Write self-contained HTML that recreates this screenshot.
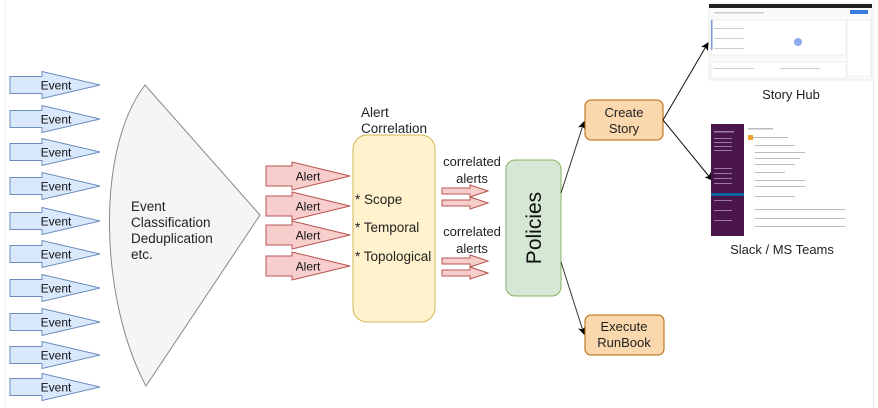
<!DOCTYPE html>
<html><head><meta charset="utf-8"><style>
html,body{margin:0;padding:0;background:#fff;}
svg{display:block;font-family:"Liberation Sans","DejaVu Sans",sans-serif;}
</style></head><body>
<svg width="878" height="408" viewBox="0 0 878 408" xmlns="http://www.w3.org/2000/svg">
<defs>
<marker id="ah" markerWidth="8" markerHeight="8" refX="7" refY="4" orient="auto" markerUnits="userSpaceOnUse"><path d="M0,0 L8,4 L0,8 L2,4 Z" fill="#000"/></marker>
<g id="ev"><path d="M10,-8.5 L42,-8.5 L42,-13.5 L100,0 L42,13.5 L42,8.5 L10,8.5 Z" fill="#dae8fc" stroke="#6c8ebf" stroke-width="1"/><text x="56" y="4.5" font-size="12" text-anchor="middle" fill="#111">Event</text></g>
<g id="al"><path d="M266,-10 L292,-10 L292,-14 L350,0 L292,14 L292,10 L266,10 Z" fill="#f8cecc" stroke="#b85450" stroke-width="1"/><text x="308" y="4.5" font-size="12" text-anchor="middle" fill="#111">Alert</text></g>
<g id="ca"><path d="M442,-3 L470,-3 L470,-6 L488,0 L470,6 L470,3 L442,3 Z" fill="#f8cecc" stroke="#b85450" stroke-width="1"/></g>
</defs>
<line x1="5" y1="0" x2="5" y2="408" stroke="#eee"/>
<line x1="874" y1="0" x2="874" y2="408" stroke="#eee"/>
<use href="#ev" y="85"/><use href="#ev" y="119"/><use href="#ev" y="152"/><use href="#ev" y="186"/><use href="#ev" y="221"/>
<use href="#ev" y="254"/><use href="#ev" y="288"/><use href="#ev" y="322"/><use href="#ev" y="355"/><use href="#ev" y="387"/>
<path d="M145,85 L260,215 L146,386 C100,300 95,150 145,85 Z" fill="#f5f5f5" stroke="#888" stroke-width="1"/>
<text font-size="13.5" fill="#222"><tspan x="131" y="211">Event</tspan><tspan x="131" y="227">Classification</tspan><tspan x="131" y="243">Deduplication</tspan><tspan x="131" y="259">etc.</tspan></text>
<use href="#al" y="176"/><use href="#al" y="206"/><use href="#al" y="235"/><use href="#al" y="266"/>
<text font-size="13.5" fill="#222"><tspan x="361" y="117">Alert</tspan><tspan x="361" y="133">Correlation</tspan></text>
<rect x="353" y="135" width="82" height="187" rx="14" fill="#fff2cc" stroke="#d6b656"/>
<text font-size="13.5" fill="#222"><tspan x="355" y="204">* Scope</tspan><tspan x="355" y="232">* Temporal</tspan><tspan x="355" y="261">* Topological</tspan></text>
<text font-size="13" fill="#222" text-anchor="middle"><tspan x="472" y="166">correlated</tspan><tspan x="472" y="183">alerts</tspan><tspan x="472" y="236">correlated</tspan><tspan x="472" y="253">alerts</tspan></text>
<use href="#ca" y="191"/><use href="#ca" y="203"/><use href="#ca" y="261"/><use href="#ca" y="273"/>
<rect x="506" y="160" width="55" height="136" rx="9" fill="#d5e8d4" stroke="#82b366"/>
<text transform="translate(541,228) rotate(-90)" font-size="21" text-anchor="middle" fill="#111">Policies</text>
<line x1="561" y1="193" x2="584" y2="122" stroke="#333" marker-end="url(#ah)"/>
<line x1="561" y1="262" x2="584" y2="334" stroke="#333" marker-end="url(#ah)"/>
<rect x="585" y="100" width="78" height="40" rx="6" fill="#fad7ac" stroke="#b46504"/>
<text font-size="13" fill="#222" text-anchor="middle"><tspan x="624" y="117">Create</tspan><tspan x="624" y="133">Story</tspan></text>
<rect x="585" y="315" width="79" height="40" rx="6" fill="#fad7ac" stroke="#b46504"/>
<text font-size="13" fill="#222" text-anchor="middle"><tspan x="624" y="331">Execute</tspan><tspan x="624" y="347">RunBook</tspan></text>
<line x1="663" y1="120" x2="708" y2="43" stroke="#111" marker-end="url(#ah)"/>
<line x1="663" y1="120" x2="712" y2="180" stroke="#111" marker-end="url(#ah)"/>
<!-- story hub screenshot -->
<rect x="709" y="4" width="163" height="76" fill="#fafafa" stroke="#ddd" stroke-width="0.5"/>
<rect x="709" y="4" width="163" height="4" fill="#222"/>
<rect x="850" y="10" width="18" height="4" fill="#3b7ddd"/>
<rect x="711" y="20" width="135" height="35" fill="#fff" stroke="#e0e0e0" stroke-width="0.5"/>
<rect x="711" y="20" width="1.5" height="30" fill="#7a9ad8"/>
<circle cx="798" cy="42" r="4" fill="#8fa8f0"/>
<rect x="711" y="62" width="135" height="16" fill="#fff" stroke="#e0e0e0" stroke-width="0.5"/>
<rect x="847" y="20" width="24" height="56" fill="#fff" stroke="#e0e0e0" stroke-width="0.5"/>
<g fill="#ccc"><rect x="714" y="12" width="50" height="1.5"/><rect x="714" y="28" width="30" height="1"/><rect x="714" y="38" width="30" height="1"/><rect x="714" y="48" width="30" height="1"/><rect x="714" y="68" width="40" height="1"/><rect x="780" y="68" width="40" height="1"/></g>
<text x="791" y="99" font-size="13" text-anchor="middle" fill="#222">Story Hub</text>
<!-- slack screenshot -->
<rect x="711" y="124" width="140" height="112" fill="#fff"/>
<rect x="711" y="124" width="33" height="112" fill="#4a154b"/>
<rect x="711" y="193" width="33" height="3" fill="#1164a3"/>
<g fill="#9b7a9c"><rect x="714" y="131" width="20" height="1.5"/><rect x="714" y="138" width="18" height="1"/><rect x="714" y="142" width="18" height="1"/><rect x="714" y="146" width="18" height="1"/><rect x="714" y="150" width="18" height="1"/><rect x="714" y="168" width="18" height="1"/><rect x="714" y="173" width="18" height="1"/><rect x="714" y="178" width="18" height="1"/><rect x="714" y="183" width="18" height="1"/><rect x="714" y="200" width="18" height="1"/><rect x="714" y="210" width="18" height="1"/><rect x="714" y="220" width="18" height="1"/></g>
<g fill="#bbb"><rect x="748" y="128" width="25" height="1.5"/><rect x="748" y="137" width="40" height="1"/><rect x="755" y="145" width="40" height="1"/><rect x="755" y="152" width="50" height="1"/><rect x="755" y="158" width="45" height="1"/><rect x="755" y="164" width="40" height="1"/><rect x="755" y="172" width="30" height="1"/><rect x="755" y="180" width="50" height="1"/><rect x="755" y="186" width="50" height="1"/><rect x="755" y="196" width="40" height="1"/><rect x="755" y="209" width="90" height="1"/><rect x="755" y="218" width="90" height="1"/><rect x="755" y="226" width="90" height="1"/></g>
<rect x="748" y="135" width="5" height="5" fill="#f0a030"/>
<text x="782" y="254" font-size="13" text-anchor="middle" fill="#222">Slack / MS Teams</text>
</svg>
</body></html>
